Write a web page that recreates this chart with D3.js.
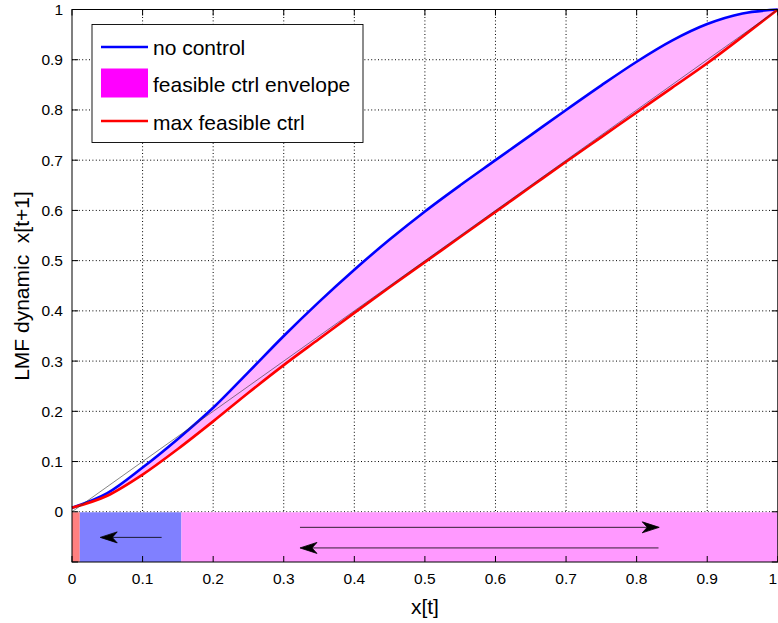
<!DOCTYPE html>
<html lang="en">
<head>
<meta charset="UTF-8">
<title>LMF dynamic</title>
<style>
  body { margin: 0; background: #fff; }
  svg { display: block; font-family: Helvetica, "Liberation Sans", Arial, sans-serif; }
  .grid { stroke: #000; stroke-width: 1; stroke-dasharray: 1 2.4; }
  .tick-label { font-size: 15.5px; fill: #000; }
  .axis-title { font-size: 21px; fill: #000; white-space: pre; }
  .legend text { font-size: 21px; fill: #000; }
</style>
</head>
<body>
<svg id="chart" width="778" height="623"></svg>
<script src="https://d3js.org/d3.v7.min.js"></script>
<script>
// values
const xt = [0, 0.05, 0.1, 0.15, 0.2, 0.25, 0.3, 0.35, 0.4, 0.45, 0.5, 0.55, 0.6, 0.65, 0.7, 0.75, 0.8, 0.85, 0.9, 0.95, 1];
const noControl = [0.008, 0.037, 0.088, 0.145, 0.207, 0.278, 0.35, 0.418, 0.482, 0.542, 0.598, 0.65, 0.70, 0.75, 0.80, 0.849, 0.896, 0.938, 0.971, 0.992, 1.0];
const maxCtrl = [0.008, 0.032, 0.074, 0.125, 0.18, 0.237, 0.292, 0.344, 0.396, 0.447, 0.497, 0.547, 0.597, 0.647, 0.697, 0.746, 0.795, 0.844, 0.893, 0.946, 1.0];
const diagonal = [0, 1];

const xTicks = [0, 0.1, 0.2, 0.3, 0.4, 0.5, 0.6, 0.7, 0.8, 0.9, 1];
const yTicks = [0, 0.1, 0.2, 0.3, 0.4, 0.5, 0.6, 0.7, 0.8, 0.9, 1];

// regions of the bottom strip [from, to]
const stripBreaks = [0, 0.011, 0.155, 1];
const stripColors = ['#ff8080', '#8080ff', '#ff99ff'];

// arrows in the strip: start x, end x, y
const arrowFrom = [0.127, 0.323, 0.831];
const arrowTo = [0.04, 0.832, 0.323];
const arrowY = [-0.051, -0.031, -0.072];

const legendLabels = ['no control', 'feasible ctrl envelope', 'max feasible ctrl'];

const svg = d3.select('#chart');
const mLeft = 72, mRight = 777.8, mTop = 9.5, mBottom = 562;

const x = d3.scaleLinear().domain([0, 1]).range([mLeft, mRight]);
const y = d3.scaleLinear().domain([-0.1, 1]).range([mBottom, mTop]);

// grid
svg.append('g').selectAll('line')
  .data(xTicks.slice(1, -1))
  .enter().append('line')
  .attr('class', 'grid')
  .attr('x1', d => x(d)).attr('x2', d => x(d))
  .attr('y1', y(-0.1)).attr('y2', y(1));

svg.append('g').selectAll('line')
  .data(yTicks.slice(0, -1))
  .enter().append('line')
  .attr('class', 'grid')
  .attr('y1', d => y(d)).attr('y2', d => y(d))
  .attr('x1', x(0)).attr('x2', x(1));

// bottom strip
svg.append('g').selectAll('rect')
  .data(stripColors)
  .enter().append('rect')
  .attr('x', (c, i) => x(stripBreaks[i]))
  .attr('width', (c, i) => x(stripBreaks[i + 1]) - x(stripBreaks[i]))
  .attr('y', y(0) + 0.5)
  .attr('height', y(-0.1) - y(0) - 0.5)
  .attr('fill', c => c);

// envelope
const pts = xt.map((v, i) => ({ x: v, hi: noControl[i], lo: maxCtrl[i] }));
svg.append('path')
  .datum(pts)
  .attr('fill', '#ffb3ff')
  .attr('d', d3.area().x(d => x(d.x)).y0(d => y(d.lo)).y1(d => y(d.hi)).curve(d3.curveMonotoneX));

const line = d3.line().x(d => x(d[0])).y(d => y(d[1])).curve(d3.curveMonotoneX);

svg.append('path')
  .datum(xt.map((v, i) => [v, noControl[i]]))
  .attr('fill', 'none').attr('stroke', '#0000ff').attr('stroke-width', 2.6)
  .attr('d', line);

svg.append('path')
  .datum(xt.map((v, i) => [v, maxCtrl[i]]))
  .attr('fill', 'none').attr('stroke', '#ff0000').attr('stroke-width', 2.6)
  .attr('d', line);

svg.append('path')
  .datum(diagonal.map(v => [v, v]))
  .attr('fill', 'none').attr('stroke', '#333').attr('stroke-width', 0.6)
  .attr('d', d3.line().x(d => x(d[0])).y(d => y(d[1])));

// arrows
function arrowPath(x1, x2, yy) {
  const dir = x2 > x1 ? 1 : -1;
  const len = 17, half = 5.5, notch = 5;
  const tx = x(x2), ty = y(yy);
  const bx = tx - dir * len;
  return `M${x(x1)},${ty}L${tx - dir * notch},${ty}` +
    `M${tx},${ty}L${bx},${ty - half}L${tx - dir * (len - notch)},${ty}L${bx},${ty + half}Z`;
}
arrowFrom.forEach((a, i) => {
  svg.append('path')
    .attr('d', arrowPath(a, arrowTo[i], arrowY[i]))
    .attr('stroke', '#000').attr('stroke-width', 0.8)
    .attr('fill', '#000');
});

// box and ticks
svg.append('rect')
  .attr('x', x(0)).attr('y', y(1))
  .attr('width', x(1) - x(0)).attr('height', y(-0.1) - y(1))
  .attr('fill', 'none').attr('stroke', '#000').attr('stroke-width', 1);

const tl = 6;
const ticks = svg.append('g').attr('stroke', '#000').attr('stroke-width', 1);
xTicks.forEach(t => {
  ticks.append('line').attr('x1', x(t)).attr('x2', x(t)).attr('y1', mBottom).attr('y2', mBottom - tl);
  ticks.append('line').attr('x1', x(t)).attr('x2', x(t)).attr('y1', mTop).attr('y2', mTop + tl);
});
yTicks.concat([-0.1]).forEach(t => {
  ticks.append('line').attr('y1', y(t)).attr('y2', y(t)).attr('x1', mLeft).attr('x2', mLeft + tl);
  ticks.append('line').attr('y1', y(t)).attr('y2', y(t)).attr('x1', mRight).attr('x2', mRight - tl);
});

// last x label pulled inside the page edge
svg.append('g').selectAll('text')
  .data(xTicks)
  .enter().append('text')
  .attr('class', 'tick-label')
  .attr('x', d => d === 1 ? 777 : x(d)).attr('y', mBottom + 22)
  .attr('text-anchor', d => d === 1 ? 'end' : 'middle')
  .text(d => d3.format('~g')(d));

svg.append('g').selectAll('text')
  .data(yTicks)
  .enter().append('text')
  .attr('class', 'tick-label')
  .attr('x', mLeft - 9).attr('y', d => y(d) + 5.5)
  .attr('text-anchor', 'end')
  .text(d => d3.format('~g')(d));

svg.append('text')
  .attr('class', 'axis-title')
  .attr('x', x(0.5)).attr('y', 614)
  .attr('text-anchor', 'middle')
  .text('x[t]');

svg.append('text')
  .attr('class', 'axis-title')
  .attr('transform', 'translate(29,286) rotate(-90)')
  .attr('text-anchor', 'middle')
  .text('LMF dynamic  x[t+1]');

// legend
const lg = svg.append('g').attr('class', 'legend');
lg.append('rect')
  .attr('x', 92).attr('y', 24.5).attr('width', 271).attr('height', 118)
  .attr('fill', '#fff').attr('stroke', '#000').attr('stroke-width', 0.9);
const rowY = [47, 83, 121];
lg.append('line').attr('x1', 101).attr('x2', 148).attr('y1', rowY[0]).attr('y2', rowY[0])
  .attr('stroke', '#0000ff').attr('stroke-width', 2.6);
lg.append('rect').attr('x', 101).attr('y', 68.5).attr('width', 47).attr('height', 29)
  .attr('fill', '#ff00ff');
lg.append('line').attr('x1', 101).attr('x2', 148).attr('y1', rowY[2]).attr('y2', rowY[2])
  .attr('stroke', '#ff0000').attr('stroke-width', 2.6);
lg.selectAll('text.lab')
  .data(legendLabels)
  .enter().append('text')
  .attr('class', 'lab')
  .attr('x', 153).attr('y', (d, i) => [55, 91.5, 130][i])
  .text(d => d);
</script>
</body>
</html>
